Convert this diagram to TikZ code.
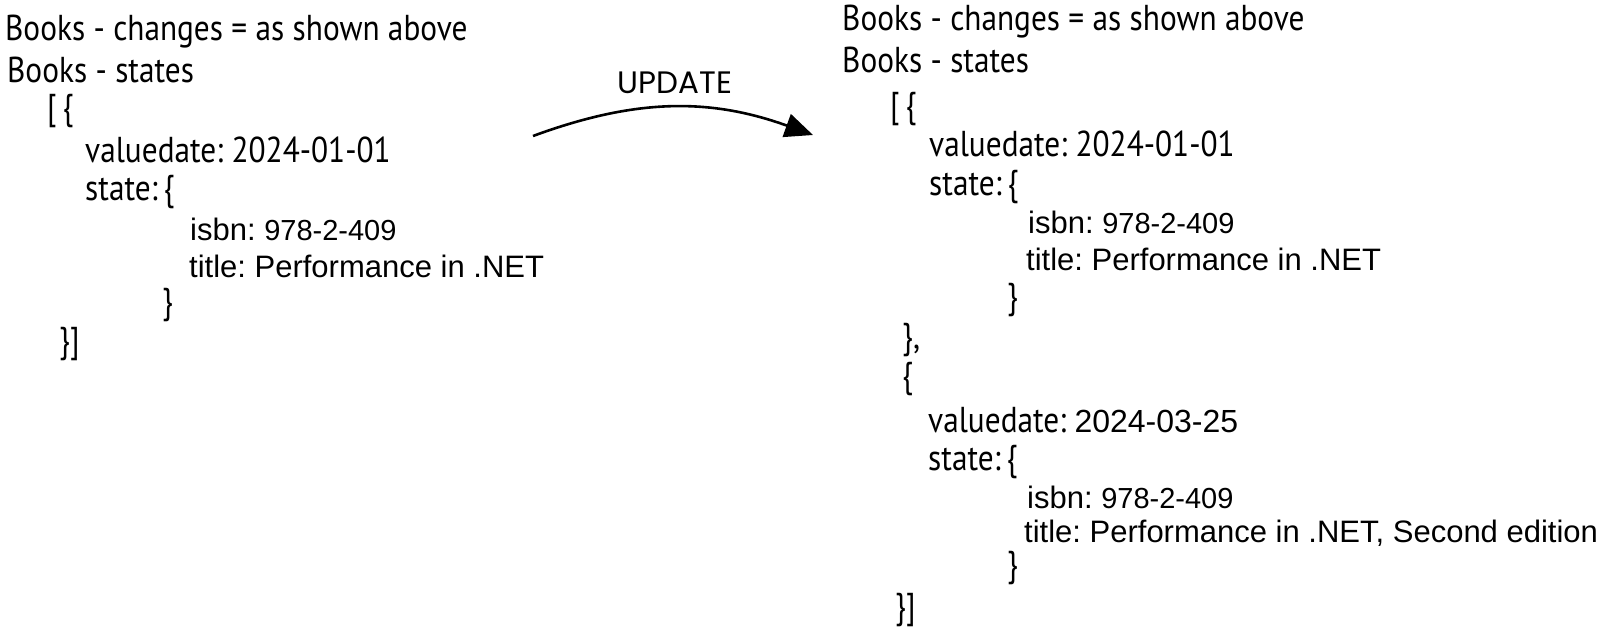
\documentclass[tikz,border=0pt]{standalone}
\usepackage{fontspec}
\setmainfont{PT Sans}[FakeStretch=0.87]
\newfontfamily\arialfont{Liberation Sans}
\newfontfamily\updfont{Poppins}
\usetikzlibrary{arrows.meta}
\newcommand{\bigtxt}{\fontsize{36}{42}\selectfont}
\newcommand{\codetxt}{\arialfont\fontsize{31}{36}\selectfont}
\newcommand{\numtxt}{\arialfont\fontsize{29}{34}\selectfont}
\frenchspacing

\begin{document}
\begin{tikzpicture}[x=1pt,y=1pt,
    txt/.style={anchor=base west,inner sep=0pt,font=\bigtxt},
    code/.style={anchor=base west,inner sep=0pt,font=\codetxt}]
                \useasboundingbox (0,0) rectangle (1620,-632);

                \node[txt] (lchg) at (5,-40) {Books - changes = as shown above};
                \node[txt] (lsta) at (7,-82) {Books - states};
                \node[txt] (lopen) at (47,-119) {[\,\{};
                \node[txt] (lvd) at (85,-162) {valuedate: 2024-01-01};
                \node[txt] (lst) at (85,-200) {state:\,\{};
                \node[code] (lisbn) at (190,-240) {isbn: {\numtxt 978-2-409}};
                \node[code] (ltit) at (189,-277) {title: Performance in .NET};
                \node[txt] (lcl) at (162,-313) {\}};
                \node[txt] (lend) at (59,-352) {\}]};

                \coordinate (from) at (533,-136);
                \coordinate (to) at (813,-135);
                \node[anchor=base,inner sep=0pt,font=\updfont\fontsize{31}{36}\selectfont] (upd) at (675,-93) {UPDATE};
                \draw[line width=2.6pt,-{Triangle[length=28pt,width=24pt]}] (from) to[bend left=20] (to);

                \node[txt] (rchg) at (842,-30) {Books - changes = as shown above};
                \node[txt] (rsta) at (842,-72) {Books - states};
                \node[txt] (ropen) at (890,-117) {[\,\{};
                \node[txt] (rvda) at (929,-156) {valuedate: 2024-01-01};
                \node[txt] (rsta) at (929,-195) {state:\,\{};
                \node[code] (risbna) at (1028,-233) {isbn: {\numtxt 978-2-409}};
                \node[code] (rtita) at (1026,-270) {title: Performance in .NET};
                \node[txt] (rcla) at (1007,-308) {\}};
                \node[txt] (rsep) at (902,-348) {\},};
                \node[txt] (rnext) at (902,-387) {\{};
                \node[txt] (rvdb) at (928,-432) {valuedate: {\arialfont\fontsize{32}{38}\selectfont 2024-03-25}};
                \node[txt] (rstb) at (928,-470) {state:\,\{};
                \node[code] (risbnb) at (1027,-508) {isbn: {\numtxt 978-2-409}};
                \node[code] (rtitb) at (1024,-542) {title: Performance in .NET, Second edition};
                \node[txt] (rclb) at (1007,-576) {\}};
                \node[txt] (rend) at (895,-618) {\}]};
\end{tikzpicture}
\end{document}
